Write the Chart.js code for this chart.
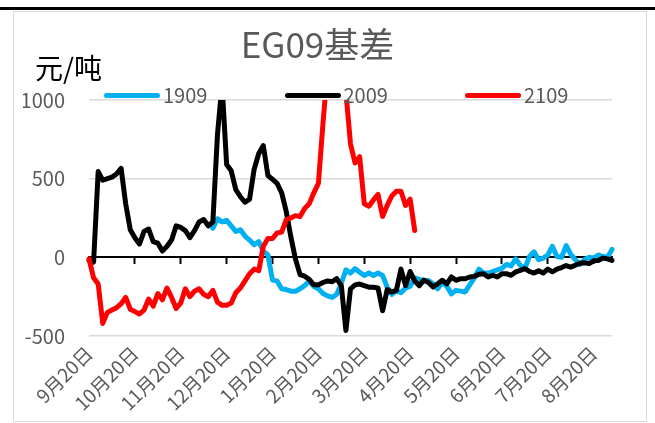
<!DOCTYPE html>
<html>
<head>
<meta charset="utf-8">
<script src="https://cdn.jsdelivr.net/npm/chart.js@4.4.0/dist/chart.umd.min.js"></script>
<style>
  body { margin: 0; background: #fff; }
  #wrap { position: relative; width: 655px; height: 423px; overflow: hidden; }
  #topbar { position: absolute; left: 0; top: 7px; width: 655px; height: 3px; background: #000; }
  #frame { position: absolute; left: 13px; top: 11px; width: 634px; height: 411px; box-sizing: border-box; border: 1px solid #d9d9d9; }
  #c { position: absolute; left: 0; top: 0; }
  #unit { position: absolute; left: 35px; top: 52px; font: 28px 'Noto Sans CJK SC', sans-serif; line-height: 30px; color: #000; }
  .legend-item { position: absolute; top: 84px; height: 22px; display: flex; align-items: center; }
  .swatch { width: 56px; height: 5px; border-radius: 3px; margin-right: 3px; }
  .legend-label { font: 20px 'Noto Sans CJK SC', sans-serif; line-height: 22px; color: #595959; }
</style>
</head>
<body>
<div id="wrap">
  <div id="topbar"></div>
  <div id="frame"></div>
  <canvas id="c" width="655" height="423"></canvas>
  <div id="unit"></div>
  <div id="legend"></div>
</div>
<script>
// 标题与单位
const TITLE = 'EG09基差';
const UNIT = '元/吨';

// 横轴：每月一个刻度，每月 10 个采样点
const MONTH_TICKS = ['9月20日', '10月20日', '11月20日', '12月20日', '1月20日', '2月20日',
                     '3月20日', '4月20日', '5月20日', '6月20日', '7月20日', '8月20日'];
const STEPS_PER_MONTH = 10;

// 纵轴
const Y_MIN = -500;
const Y_MAX = 1000;
const Y_STEP = 500;

// 图例
const SERIES_NAMES = ['1909', '2009', '2109'];
const SERIES_COLORS = ['#00B0F0', '#000000', '#FF0000'];

// 基差（元/吨），null = 无数据
const S1909 = [
  null, null, null, null, null, null, null, null, null, null,
  null, null, null, null, null, null, null, null, null, null,
  null, null, null, null, null, null, null, 185, 245, 225,
  235, 200, 165, 175, 135, 110, 80, 100, 40, 15,
  -145, -150, -200, -205, -215, -215, -200, -180, -150, -185,
  -200, -230, -245, -255, -235, -165, -80, -100, -72, -95,
  -115, -100, -115, -100, -115, -190, -235, -215, -225, -195,
  -185, -130, -140, -150, -147, -168, -200, -160, -185, -232,
  -210, -215, -220, -175, -130, -75, -100, -100, -90, -80,
  -70, -45, -55, -10, -50, -70, 5, 35, -15, -5,
  15, 70, 5, 0, 75, 20, -15, -45, -15, 0,
  -5, 15, 5, 0, 50
];
const S2009 = [
  -20, -30, 545, 490, 500, 510, 530, 565, 340, 175,
  125, 85, 165, 180, 100, 90, 40, 70, 110, 200,
  190, 170, 125, 170, 225, 240, 200, 225, 780, 1100,
  590, 550, 430, 385, 350, 370, 560, 660, 710, 520,
  495, 470, 410, 290, 130, -10, -110, -120, -140, -175,
  -175, -160, -150, -155, -135, -180, -465, -200, -175, -170,
  -180, -190, -190, -195, -340, -205, -220, -210, -75, -180,
  -90, -150, -180, -145, -160, -189, -168, -146, -168, -125,
  -146, -136, -136, -125, -121, -108, -104, -125, -114, -125,
  -104, -104, -114, -93, -83, -72, -90, -100, -85, -100,
  -75, -92, -75, -65, -52, -62, -50, -38, -35, -40,
  -22, -20, -5, -10, -20
];
const S2109 = [
  -10, -130, -170, -420, -350, -335, -320, -295, -255, -330,
  -345, -360, -335, -265, -310, -230, -270, -195, -255, -325,
  -290, -200, -250, -215, -200, -235, -250, -210, -285, -305,
  -305, -290, -225, -195, -150, -105, -75, -85, 70, 120,
  120, 155, 160, 240, 250, 265, 260, 310, 340, 410,
  470, 850, 1200, 1300, 1300, 1250, 1050, 720, 600, 640,
  340, 325, 365, 400, 260, 330, 390, 420, 420, 330,
  370, 170
];

// 类别标签：每月第一个采样点显示月份刻度
const CATEGORIES = S2009.map((_, i) => (i % STEPS_PER_MONTH === 0 ? MONTH_TICKS[i / STEPS_PER_MONTH] || '' : ''));

document.getElementById('unit').textContent = UNIT;

// HTML 图例
const legendBox = document.getElementById('legend');
SERIES_NAMES.forEach((name, i) => {
  const item = document.createElement('div');
  item.className = 'legend-item';
  item.style.left = (104 + i * 180.5) + 'px';
  item.innerHTML = `<span class="swatch" style="background:${SERIES_COLORS[i]}"></span><span class="legend-label">${name}</span>`;
  legendBox.appendChild(item);
});

function lineDataset(idx, data, order) {
  return {
    label: SERIES_NAMES[idx],
    data: data,
    borderColor: SERIES_COLORS[idx],
    backgroundColor: SERIES_COLORS[idx],
    borderWidth: 5,
    pointRadius: 0,
    pointHoverRadius: 0,
    tension: 0,
    borderJoinStyle: 'round',
    borderCapStyle: 'round',
    spanGaps: false,
    clip: { left: 5, top: 0, right: 5, bottom: 5 },
    order: order
  };
}

Chart.defaults.font.family = "'Noto Sans CJK SC', sans-serif";

new Chart(document.getElementById('c'), {
  type: 'line',
  data: {
    labels: CATEGORIES,
    datasets: [
      lineDataset(0, S1909, 2),
      lineDataset(1, S2009, 1),
      lineDataset(2, S2109, 0)
    ]
  },
  options: {
    responsive: false,
    animation: false,
    devicePixelRatio: 1,
    layout: { padding: { left: 23, right: 43, top: 0, bottom: 6 } },
    plugins: {
      legend: { display: false },
      tooltip: { enabled: false },
      title: {
        display: true,
        text: TITLE,
        color: '#595959',
        font: { size: 35, weight: 'normal' },
        padding: { top: 24, bottom: 34 }
      }
    },
    scales: {
      x: {
        type: 'category',
        grid: { display: false },
        border: { display: false },
        ticks: {
          autoSkip: false,
          minRotation: 45,
          maxRotation: 45,
          padding: -2,
          color: '#595959',
          font: { size: 19 }
        },
        afterFit: (scale) => { scale.height = 81; }
      },
      x0: {
        type: 'category',
        position: { y: 0 },
        grid: {
          display: true,
          drawOnChartArea: false,
          drawTicks: true,
          tickLength: 6,
          tickWidth: 2,
          tickColor: (ctx) => (ctx.index % STEPS_PER_MONTH === 0 ? '#000000' : 'rgba(0,0,0,0)')
        },
        border: { display: true, color: '#000000', width: 2 },
        ticks: { display: false }
      },
      y: {
        min: Y_MIN,
        max: Y_MAX,
        ticks: {
          stepSize: Y_STEP,
          padding: 24,
          color: '#595959',
          font: { size: 20 },
          callback: (v) => String(v)
        },
        grid: {
          drawTicks: false,
          lineWidth: 1.5,
          color: (ctx) => (ctx.tick && ctx.tick.value === 0 ? 'rgba(0,0,0,0)' : '#d9d9d9')
        },
        border: { display: false },
        afterFit: (scale) => { scale.width = 66; }
      }
    }
  }
});
</script>
</body>
</html>
